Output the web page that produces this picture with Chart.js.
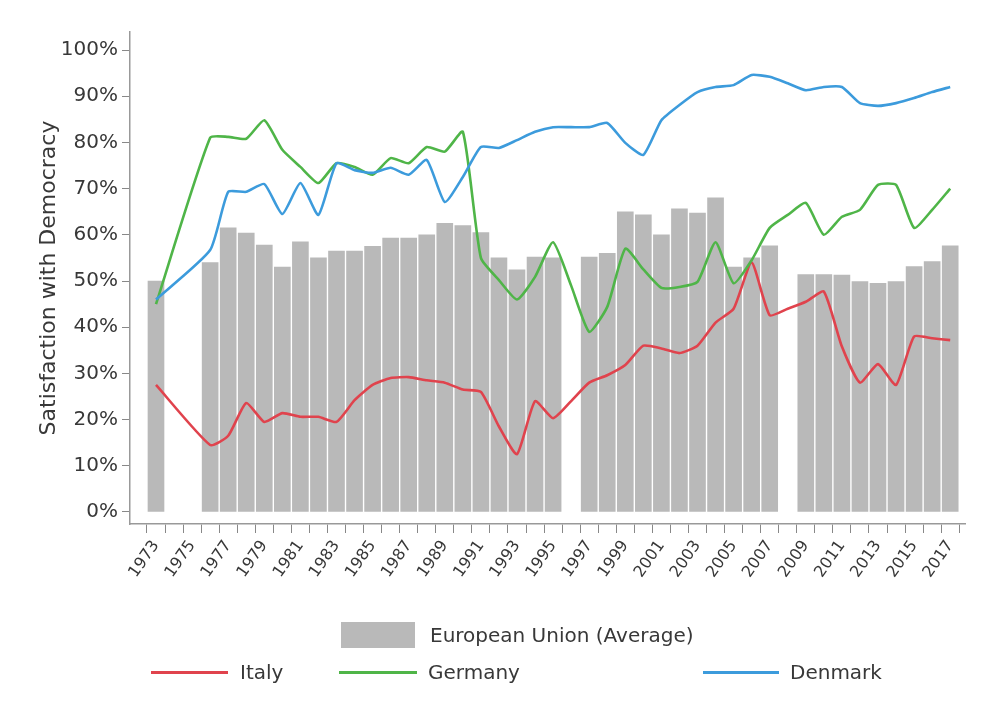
<!DOCTYPE html>
<html>
<head>
<meta charset="utf-8">
<script src="https://cdn.jsdelivr.net/npm/chart.js@4/dist/chart.umd.min.js"></script>
<style>
  html, body { margin: 0; padding: 0; background: #fff; }
  #wrap { position: relative; width: 991px; height: 721px; }
  canvas { position: absolute; left: 0; top: 0; }
  .lg { position: absolute; font-family: 'DejaVu Sans', sans-serif; font-size: 20px; color: #383838; line-height: 26px; white-space: nowrap; }
  .sw { position: absolute; }
</style>
</head>
<body>
<div id="wrap">
  <canvas id="c" width="991" height="721"></canvas>
  <div class="sw" id="swEU" style="left:341px;top:622px;width:74px;height:26px;"></div>
  <div class="lg" id="lbEU" style="left:430px;top:622px;"></div>
  <div class="sw" id="swIT" style="left:151px;top:671px;width:77px;height:3px;"></div>
  <div class="lg" id="lbIT" style="left:240px;top:659px;"></div>
  <div class="sw" id="swDE" style="left:339px;top:671px;width:78px;height:3px;"></div>
  <div class="lg" id="lbDE" style="left:428px;top:659px;"></div>
  <div class="sw" id="swDK" style="left:703px;top:671px;width:76px;height:3px;"></div>
  <div class="lg" id="lbDK" style="left:790px;top:659px;"></div>
</div>
<script>
const years = [1973,1974,1975,1976,1977,1978,1979,1980,1981,1982,1983,1984,1985,1986,1987,1988,1989,1990,
  1991,1992,1993,1994,1995,1996,1997,1998,1999,2000,2001,2002,2003,2004,2005,2006,2007,2008,2009,2010,
  2011,2012,2013,2014,2015,2016,2017];

const euAverage = [50,null,null,54,61.5,60.4,57.8,53,58.5,55,56.5,56.5,57.5,59.3,59.3,60,62.5,62,
  60.5,55,52.4,55.2,55,null,55.2,56,65,64.3,60,65.6,64.7,68,53,55,57.6,null,51.4,51.4,
  51.3,49.9,49.5,49.9,53.1,54.2,57.6];

const italy = [27.5,null,null,14.5,16.5,23.6,19.5,21.4,20.6,20.6,19.5,24.2,27.5,29,29.2,28.5,28,26.5,
  26,18.5,12.5,24,20.3,24,28,29.6,31.8,36,35.4,34.4,36,41,44,54,42.6,44,45.5,47.7,
  35.8,28,32,27.5,38,37.6,37.2];

const germany = [45,null,null,81,81.2,80.8,84.8,78.4,74.7,71.2,75.5,74.7,73,76.6,75.5,79,78,82.3,
  55,50.2,46,50.9,58.4,49,39,44.4,57,52.5,48.5,48.7,49.8,58.4,49.5,54.5,61.5,64.3,66.9,60,
  63.9,65.4,70.8,70.8,61.5,65.4,70];

const denmark = [46,null,null,56.7,69.3,69.3,71,64.5,71.2,64.3,75.5,74,73.4,74.5,73,76.2,67.1,72.5,
  79,78.8,80.5,82.3,83.3,83.3,83.3,84.2,79.9,77.3,84.8,88.1,90.9,92,92.4,94.6,94.2,92.8,91.3,92,
  92,88.5,87.9,88.5,89.6,90.9,92];

const yTickValues = [0,10,20,30,40,50,60,70,80,90,100];
const xLabelYears = [1973,1975,1977,1979,1981,1983,1985,1987,1989,1991,1993,1995,1997,1999,2001,
  2003,2005,2007,2009,2011,2013,2015,2017];

const seriesNames = ['European Union (Average)','Italy','Germany','Denmark'];
const colors = { eu: '#b9b9b9', it: '#e0434d', de: '#4fb548', dk: '#3c9bdc' };

const toXY = arr => years.map((yr, i) => ({ x: yr, y: arr[i] }));

Chart.defaults.font.family = "'DejaVu Sans', sans-serif";
Chart.defaults.color = '#383838';

new Chart(document.getElementById('c'), {
  type: 'bar',
  data: {
    datasets: [
      { type: 'bar', label: seriesNames[0], data: toXY(euAverage), backgroundColor: colors.eu,
        barThickness: 16, order: 10 },
      { type: 'line', label: seriesNames[1], data: toXY(italy), borderColor: colors.it, borderWidth: 2.6,
        pointRadius: 0, tension: 0.18, spanGaps: true, order: 3 },
      { type: 'line', label: seriesNames[2], data: toXY(germany), borderColor: colors.de, borderWidth: 2.6,
        pointRadius: 0, tension: 0.18, spanGaps: true, order: 2 },
      { type: 'line', label: seriesNames[3], data: toXY(denmark), borderColor: colors.dk, borderWidth: 2.6,
        pointRadius: 0, tension: 0.18, spanGaps: true, order: 1 }
    ]
  },
  options: {
    responsive: false,
    animation: false,
    layout: { padding: { left: 36, right: 26, top: 32, bottom: 0 } },
    plugins: { legend: { display: false }, tooltip: { enabled: false } },
    scales: {
      x: {
        type: 'linear',
        offset: false,
        min: 1971.56,
        max: 2017.82,
        afterBuildTicks: s => { s.ticks = years.map(v => ({ value: v })); },
        afterFit: s => { s.height = 197; },
        grid: { display: true, drawOnChartArea: false, drawTicks: true, tickLength: 9, color: '#888', lineWidth: 1 },
        border: { display: true, color: '#999', width: 1.5 },
        ticks: {
          autoSkip: false,
          minRotation: 55,
          maxRotation: 55,
          padding: 4,
          font: { size: 16 },
          color: '#383838',
          callback: v => xLabelYears.includes(v) ? String(v) : ''
        }
      },
      y: {
        min: -2.6,
        max: 103.9,
        afterBuildTicks: s => { s.ticks = yTickValues.map(v => ({ value: v })); },
        afterFit: s => { s.width = 94; },
        grid: { display: true, drawOnChartArea: false, drawTicks: true, tickLength: 8, color: '#888' },
        border: { display: true, color: '#999', width: 1.5 },
        ticks: { padding: 4, font: { size: 20 }, color: '#383838', callback: v => v + '%' },
        title: { display: true, text: 'Satisfaction with Democracy', font: { size: 22 }, color: '#383838', padding: 0 }
      }
    }
  }
});

// HTML legend built from the series names and colours
document.getElementById('swEU').style.background = colors.eu;
document.getElementById('lbEU').textContent = seriesNames[0];
document.getElementById('swIT').style.background = colors.it;
document.getElementById('lbIT').textContent = seriesNames[1];
document.getElementById('swDE').style.background = colors.de;
document.getElementById('lbDE').textContent = seriesNames[2];
document.getElementById('swDK').style.background = colors.dk;
document.getElementById('lbDK').textContent = seriesNames[3];
</script>
</body>
</html>
